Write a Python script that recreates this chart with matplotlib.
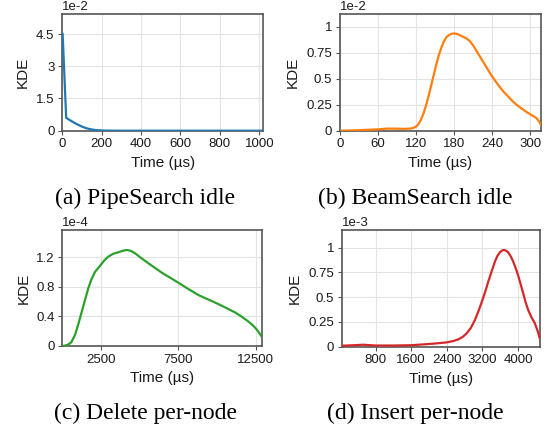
import matplotlib
matplotlib.use("Agg")
import matplotlib.pyplot as plt

plt.rcParams['font.family'] = ['Liberation Sans', 'DejaVu Sans']

# ---- data (y in units of the scale label) ----
pipe_x = [0, 3, 21, 42, 62, 83, 104, 125, 146, 167, 187, 208, 250, 300, 1020]
pipe_y = [4.52, 4.52, 0.60, 0.48, 0.37, 0.27, 0.18, 0.11, 0.065, 0.035, 0.018, 0.008, 0.002, 0.0, 0.0]

beam_x = [0, 20, 40, 60, 73, 85, 100, 110, 115, 120, 124, 128, 132, 136, 140, 144, 148,
          152, 156, 160, 164, 168, 172, 176, 180, 185, 190, 195, 200, 205, 210, 216, 222,
          228, 234, 240, 246, 252, 258, 265, 272, 279, 286, 293, 300, 305, 310, 314, 317]
beam_y = [0.0, 0.003, 0.008, 0.013, 0.02, 0.02, 0.018, 0.02, 0.025, 0.04, 0.065, 0.11,
          0.17, 0.25, 0.34, 0.44, 0.54, 0.64, 0.73, 0.80, 0.86, 0.90, 0.92, 0.932, 0.935,
          0.93, 0.915, 0.90, 0.885, 0.86, 0.82, 0.76, 0.70, 0.64, 0.58, 0.52, 0.47, 0.42,
          0.375, 0.33, 0.285, 0.247, 0.215, 0.185, 0.158, 0.14, 0.12, 0.09, 0.055]

del_x = [23, 200, 410, 600, 842, 1050, 1274, 1500, 1700, 1900, 2132, 2500, 2750, 2990,
         3300, 3635, 3900, 4177, 4450, 4712, 5100, 5570, 6000, 6434, 7000, 7500, 8150,
         8795, 9200, 9659, 10200, 10730, 11200, 11594, 12000, 12239, 12450, 12650, 12887]
del_y = [0.0, 0.005, 0.02, 0.05, 0.149, 0.29, 0.46, 0.63, 0.78, 0.90, 1.0, 1.095, 1.16,
         1.207, 1.245, 1.266, 1.285, 1.297, 1.285, 1.253, 1.19, 1.118, 1.055, 0.991, 0.92,
         0.856, 0.77, 0.689, 0.65, 0.608, 0.555, 0.5, 0.45, 0.396, 0.335, 0.293, 0.25,
         0.2, 0.126]

ins_x = [36, 300, 521, 800, 1200, 1600, 1982, 2200, 2400, 2550, 2656, 2760, 2845, 2940,
         3031, 3120, 3200, 3270, 3331, 3410, 3481, 3540, 3593, 3640, 3683, 3730, 3780,
         3840, 3892, 3950, 4000, 4060, 4117, 4170, 4229, 4300, 4379, 4440, 4488]
ins_y = [0.01, 0.015, 0.02, 0.012, 0.012, 0.015, 0.027, 0.035, 0.044, 0.058, 0.074, 0.10,
         0.135, 0.19, 0.27, 0.37, 0.472, 0.565, 0.657, 0.765, 0.86, 0.92, 0.953, 0.972,
         0.977, 0.97, 0.953, 0.91, 0.86, 0.79, 0.724, 0.63, 0.539, 0.45, 0.37, 0.30,
         0.236, 0.16, 0.085]

panels = [
    dict(x=pipe_x, y=pipe_y, color='#1f77b4', scale='1e-2', xlim=(0, 1020), ylim=(0, 5.42),
         xticks=[0, 200, 400, 600, 800, 1000], yticks=[0, 1.5, 3, 4.5],
         yticklabels=['0', '1.5', '3', '4.5'], caption='(a) PipeSearch idle',
         rect=[0.1130, 0.6953, 0.3666, 0.2714], cap=(145, 198), ylx=-0.16),
    dict(x=beam_x, y=beam_y, color='#ff7f0e', scale='1e-2', xlim=(0, 317), ylim=(0, 1.119),
         xticks=[0, 60, 120, 180, 240, 300], yticks=[0, 0.25, 0.5, 0.75, 1],
         yticklabels=['0', '0.25', '0.5', '0.75', '1'], caption='(b) BeamSearch idle',
         rect=[0.6193, 0.6953, 0.3661, 0.2714], cap=(415, 198), ylx=-0.199),
    dict(x=del_x, y=del_y, color='#2ca02c', scale='1e-4', xlim=(23, 12887), ylim=(0, 1.567),
         xticks=[2500, 7500, 12500], yticks=[0, 0.4, 0.8, 1.2],
         yticklabels=['0', '0.4', '0.8', '1.2'], caption='(c) Delete per-node',
         rect=[0.1135, 0.1935, 0.3632, 0.2704], cap=(145, 413), ylx=-0.158),
    dict(x=ins_x, y=ins_y, color='#d62728', scale='1e-3', xlim=(36, 4488), ylim=(0, 1.179),
         xticks=[800, 1600, 2400, 3200, 4000], yticks=[0, 0.25, 0.5, 0.75, 1],
         yticklabels=['0', '0.25', '0.5', '0.75', '1'], caption='(d) Insert per-node',
         rect=[0.6224, 0.1918, 0.3607, 0.2721], cap=(415, 413), ylx=-0.202),
]

W, H = 549, 429
fig = plt.figure(figsize=(W / 100, H / 100), dpi=100)

for p in panels:
    ax = fig.add_axes(p['rect'])
    ax.plot(p['x'], p['y'], color=p['color'], lw=1.6, zorder=3)
    ax.set_xlim(*p['xlim'])
    ax.set_ylim(*p['ylim'])
    ax.set_xticks(p['xticks'])
    ax.set_xticklabels([str(v) for v in p['xticks']])
    ax.set_yticks(p['yticks'])
    ax.set_yticklabels(p['yticklabels'])
    ax.grid(True, color='#e3e3e3', lw=0.8, zorder=0)
    ax.set_axisbelow(True)
    for s in ax.spines.values():
        s.set_color('#555555')
        s.set_linewidth(1.2)
    ax.tick_params(axis='both', labelsize=9.5, length=3, width=0.8, color='#555555',
                   pad=2.5, labelcolor='#1a1a1a')
    ax.set_xlabel('Time (µs)', fontsize=11, color='#1a1a1a', labelpad=4)
    ax.set_ylabel('KDE', fontsize=11, color='#1a1a1a')
    ax.yaxis.set_label_coords(p['ylx'], 0.5)
    ax.text(0.0, 1.01, p['scale'], transform=ax.transAxes, ha='left', va='bottom',
            fontsize=9.5, color='#1a1a1a')
    fig.text(p['cap'][0] / W, 1 - p['cap'][1] / H, p['caption'], ha='center', va='center',
             fontsize=17, family=['Liberation Serif', 'DejaVu Serif'])

fig.savefig('out.png', dpi=100)
